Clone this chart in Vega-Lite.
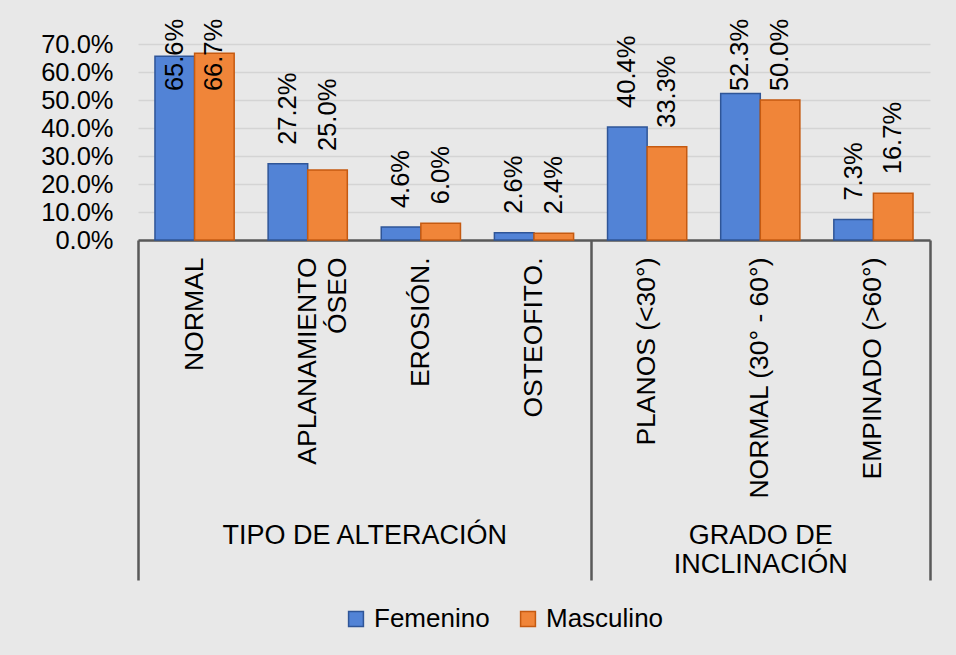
{
  "$schema": "https://vega.github.io/schema/vega-lite/v6.json",
  "width": 792,
  "height": 196,
  "autosize": {"type": "none"},
  "padding": {"left": 138, "top": 44, "right": 26, "bottom": 415},
  "background": "#e8e8e8",
  "config": {
    "view": {"stroke": null},
    "font": "Liberation Sans"
  },
  "data": {
    "values": [
      {"categoria": "NORMAL", "sexo": "Femenino", "valor": 0.656},
      {"categoria": "NORMAL", "sexo": "Masculino", "valor": 0.667},
      {"categoria": "APLANAMIENTO ÓSEO", "sexo": "Femenino", "valor": 0.272},
      {"categoria": "APLANAMIENTO ÓSEO", "sexo": "Masculino", "valor": 0.25},
      {"categoria": "EROSIÓN.", "sexo": "Femenino", "valor": 0.046},
      {"categoria": "EROSIÓN.", "sexo": "Masculino", "valor": 0.06},
      {"categoria": "OSTEOFITO.", "sexo": "Femenino", "valor": 0.026},
      {"categoria": "OSTEOFITO.", "sexo": "Masculino", "valor": 0.024},
      {"categoria": "PLANOS (<30°)", "sexo": "Femenino", "valor": 0.404},
      {"categoria": "PLANOS (<30°)", "sexo": "Masculino", "valor": 0.333},
      {"categoria": "NORMAL (30° - 60°)", "sexo": "Femenino", "valor": 0.523},
      {"categoria": "NORMAL (30° - 60°)", "sexo": "Masculino", "valor": 0.5},
      {"categoria": "EMPINADO (>60°)", "sexo": "Femenino", "valor": 0.073},
      {"categoria": "EMPINADO (>60°)", "sexo": "Masculino", "valor": 0.167}
    ]
  },
  "layer": [
    {
      "layer": [
        {
          "mark": {"type": "bar", "strokeWidth": 1.5},
          "encoding": {
            "x": {
              "field": "categoria", "type": "nominal", "sort": null,
              "scale": {"paddingInner": 0.3, "paddingOuter": 0.15},
              "axis": {
                "title": null, "labelAngle": 270, "labelFontSize": 26.5, "labelPadding": 17,
                "ticks": false, "domainColor": "#595959", "domainWidth": 2.5,
                "labelColor": "#000000", "labelLimit": 400, "labelLineHeight": 30,
                "labelExpr": "datum.label == 'APLANAMIENTO ÓSEO' ? ['APLANAMIENTO', 'ÓSEO'] : datum.label"
              }
            },
            "xOffset": {"field": "sexo", "type": "nominal", "sort": ["Femenino", "Masculino"]},
            "y": {
              "field": "valor", "type": "quantitative",
              "scale": {"domain": [0, 0.7], "nice": false},
              "axis": {
                "title": null, "values": [0, 0.1, 0.2, 0.3, 0.4, 0.5, 0.6, 0.7], "format": ".1%",
                "labelFontSize": 25.5, "labelPadding": 25, "ticks": false, "domain": false,
                "labelOverlap": false, "labelFlush": false,
                "gridColor": "#d4d4d4", "gridWidth": 1.5, "labelColor": "#000000"
              }
            },
            "color": {
              "field": "sexo", "type": "nominal",
              "scale": {"domain": ["Femenino", "Masculino"], "range": ["#5283d6", "#f08539"]},
              "legend": {
                "title": null, "orient": "none", "legendX": 205, "legendY": 562,
                "direction": "horizontal", "symbolType": "square",
                "symbolSize": 220, "labelFontSize": 26, "labelColor": "#000000", "columnPadding": 25,
                "labelOffset": 5, "symbolStrokeWidth": 1.5
              }
            },
            "stroke": {
              "field": "sexo", "type": "nominal",
              "scale": {"domain": ["Femenino", "Masculino"], "range": ["#2f5597", "#c55a11"]},
              "legend": null
            }
          }
        },
        {
          "transform": [{"calculate": "min(datum.valor, 0.464)", "as": "labY"}],
          "mark": {"type": "text", "angle": 270, "align": "left", "baseline": "middle", "dx": 19, "fontSize": 25.5, "color": "#000000"},
          "encoding": {
            "x": {
              "field": "categoria", "type": "nominal", "sort": null,
              "axis": {
                "title": null, "labelAngle": 270, "labelFontSize": 26.5, "labelPadding": 17,
                "ticks": false, "domainColor": "#595959", "domainWidth": 2.5,
                "labelColor": "#000000", "labelLimit": 400, "labelLineHeight": 30,
                "labelExpr": "datum.label == 'APLANAMIENTO ÓSEO' ? ['APLANAMIENTO', 'ÓSEO'] : datum.label"
              }
            },
            "xOffset": {"field": "sexo", "type": "nominal", "sort": ["Femenino", "Masculino"]},
            "y": {
              "field": "labY", "type": "quantitative",
              "axis": {
                "title": null, "values": [0, 0.1, 0.2, 0.3, 0.4, 0.5, 0.6, 0.7], "format": ".1%",
                "labelFontSize": 25.5, "labelPadding": 25, "ticks": false, "domain": false,
                "labelOverlap": false, "labelFlush": false,
                "gridColor": "#d4d4d4", "gridWidth": 1.5, "labelColor": "#000000"
              }
            },
            "text": {"field": "valor", "type": "quantitative", "format": ".1%"}
          }
        }
      ]
    },
    {
      "data": {"values": [{}]},
      "mark": {"type": "point", "opacity": 0},
      "encoding": {
        "x": {
          "datum": 0, "type": "quantitative",
          "scale": {"domain": [0, 7], "nice": false, "zero": false},
          "axis": {
            "orient": "bottom", "title": null, "values": [2, 5.5],
            "labelExpr": "datum.value == 2 ? 'TIPO DE ALTERACIÓN' : ['GRADO DE', 'INCLINACIÓN']",
            "ticks": false, "domain": false, "grid": false, "labelPadding": 282,
            "labelFontSize": 27, "labelBaseline": "top", "labelLineHeight": 29,
            "labelOverlap": false, "labelFlush": false, "labelColor": "#000000", "labelLimit": 400
          }
        }
      }
    },
    {
      "data": {"values": [{}]},
      "mark": {"type": "point", "opacity": 0},
      "encoding": {
        "x": {
          "datum": 0, "type": "quantitative",
          "scale": {"domain": [0, 7], "nice": false, "zero": false},
          "axis": {
            "orient": "bottom", "title": null, "values": [0, 4, 7], "labels": false,
            "domain": false, "grid": false, "ticks": true, "tickSize": 340,
            "tickColor": "#595959", "tickWidth": 2.5
          }
        }
      }
    }
  ],
  "resolve": {"scale": {"x": "independent"}}
}
